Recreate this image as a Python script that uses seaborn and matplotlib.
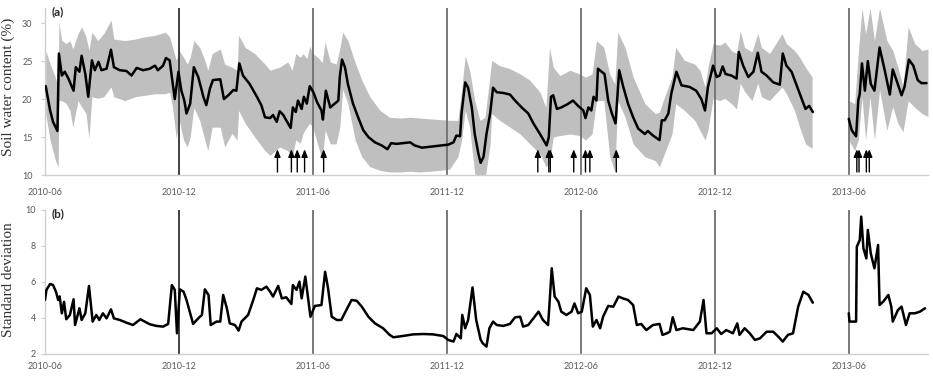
import matplotlib
matplotlib.use("Agg")
import matplotlib.pyplot as plt
import matplotlib.dates as mdates
import numpy as np
import pandas as pd
import seaborn as sns

# days counted from 2010-06-01
START = "2010-06-01"

swc_days = [1, 7, 11, 17, 19, 23, 27, 32, 39, 42, 47, 50, 55, 59, 64, 68, 73, 77, 84, 90,
            94, 102, 111, 118, 125, 134, 143, 150, 154, 161, 165, 170, 175, 177, 182, 186,
            190, 193, 198, 203, 209, 216, 220, 225, 229, 239, 244, 250, 257, 261, 265, 270,
            279, 289, 295, 300, 307, 311, 316, 320, 325, 329, 335, 338, 342, 345, 350, 353,
            357, 361, 366, 371, 377, 379, 383, 389, 395, 400, 402, 405, 409, 413, 420, 427,
            434, 441, 450, 459, 467, 472, 479, 488, 498, 504, 514, 523, 532, 541, 550, 557,
            561, 566, 568, 573, 577, 582, 586, 591, 594, 598, 602, 607, 611, 616, 625, 634,
            641, 650, 659, 666, 675, 684, 687, 690, 693, 698, 704, 712, 720, 727, 734, 737,
            741, 745, 748, 752, 754, 759, 763, 768, 773, 778, 783, 788, 795, 802, 809, 818,
            822, 829, 838, 841, 845, 850, 854, 861, 868, 879, 888, 895, 900, 904, 911, 916,
            920, 924, 928, 936, 943, 946, 952, 959, 966, 972, 977, 984, 993, 1002, 1006,
            1011, 1018, 1025, 1032, 1037, 1042, 1047,
            1096, 1100, 1106, 1109, 1111, 1114, 1118, 1122, 1126, 1131, 1138, 1145, 1152,
            1156, 1161, 1168, 1172, 1178, 1184, 1190, 1195, 1202]
swc_mean = [21.7, 18.5, 17.0, 15.8, 26.0, 23.1, 23.6, 22.7, 21.1, 24.2, 23.6, 25.7, 23.3,
            20.3, 25.1, 23.8, 24.9, 23.8, 24.0, 26.5, 24.2, 23.8, 23.7, 23.1, 24.1, 23.8,
            24.0, 24.4, 23.8, 24.4, 25.4, 25.1, 21.4, 20.0, 23.6, 21.1, 19.8, 18.1, 19.4,
            24.2, 22.9, 20.3, 19.2, 21.4, 22.5, 22.6, 20.0, 20.5, 21.2, 21.1, 24.7, 23.1,
            22.0, 20.3, 19.2, 17.6, 17.5, 17.9, 17.0, 18.4, 17.9, 17.2, 16.2, 18.9, 18.3,
            19.8, 18.7, 20.3, 19.4, 21.7, 20.9, 19.6, 18.5, 17.3, 21.1, 18.9, 19.4, 19.8,
            22.9, 25.2, 24.2, 22.0, 19.4, 17.6, 15.9, 15.0, 14.3, 13.9, 13.4, 14.2, 14.1,
            14.2, 14.3, 13.9, 13.6, 13.7, 13.8, 13.9, 14.0, 14.3, 15.2, 15.1, 18.1, 22.2,
            21.5, 18.9, 15.4, 12.8, 11.6, 12.4, 15.4, 18.1, 21.5, 20.9, 20.8, 20.6, 19.8,
            18.9, 18.1, 16.8, 15.4, 13.9, 15.0, 20.3, 20.5, 18.7, 18.9, 19.3, 19.8, 19.1,
            18.5, 17.5, 18.9, 18.5, 20.3, 19.8, 24.0, 23.6, 23.3, 19.8, 18.1, 16.8, 23.8,
            21.8, 19.4, 17.6, 16.1, 15.4, 15.8, 15.2, 14.6, 17.2, 17.2, 18.1, 20.7, 23.6,
            21.8, 21.6, 21.1, 20.0, 18.5, 21.6, 24.4, 22.9, 23.1, 24.3, 23.3, 23.1, 22.7,
            26.2, 24.4, 22.9, 23.6, 26.1, 23.6, 23.1, 22.2, 21.9, 26.0, 24.4, 23.6, 21.8,
            20.0, 18.7, 19.1, 18.3,
            17.4, 15.9, 15.1, 19.8, 20.7, 24.7, 21.1, 25.0, 22.0, 21.1, 26.8, 23.8, 20.6,
            23.9, 22.5, 20.5, 21.6, 25.2, 24.4, 22.5, 22.1, 22.1]

band_days = [1, 7, 14, 18, 19, 23, 29, 34, 38, 45, 50, 56, 60, 64, 72, 80, 90, 94, 109,
             123, 136, 150, 164, 170, 174, 179, 183, 189, 194, 198, 203, 211, 218, 222, 228,
             239, 245, 255, 262, 264, 273, 286, 300, 307, 320, 331, 337, 342, 348, 352, 357,
             361, 365, 372, 378, 382, 389, 397, 402, 406, 413, 423, 432, 443, 457, 470, 484,
             498, 511, 525, 538, 552, 563, 568, 573, 579, 586, 593, 600, 607, 609, 620, 634,
             648, 661, 675, 683, 688, 693, 702, 716, 729, 737, 746, 752, 762, 770, 777, 781,
             791, 802, 818, 832, 838, 843, 855, 860, 872, 886, 893, 900, 904, 911, 920, 927,
             936, 943, 948, 954, 964, 972, 977, 988, 1005, 1011, 1022, 1029, 1037, 1046,
             1096, 1104, 1109, 1114, 1119, 1125, 1131, 1138, 1148, 1156, 1163, 1170, 1177,
             1186, 1196, 1204]
band_hi = [26.4, 24.6, 22.9, 21.6, 30.1, 27.7, 27.3, 27.7, 26.6, 28.6, 29.5, 28.2, 26.4,
           28.8, 27.7, 28.6, 30.4, 27.9, 27.7, 27.9, 28.2, 28.4, 28.8, 28.2, 26.8, 25.1,
           26.4, 25.5, 24.6, 25.5, 27.7, 26.8, 25.1, 23.8, 26.0, 26.6, 24.6, 24.2, 23.8,
           28.4, 26.8, 26.0, 24.6, 23.8, 24.2, 24.9, 23.8, 26.0, 25.5, 26.0, 25.3, 27.0,
           26.0, 25.5, 24.8, 27.5, 24.9, 24.6, 26.6, 28.8, 27.7, 24.8, 22.5, 20.3, 18.5,
           17.6, 17.5, 17.6, 17.5, 17.4, 17.3, 17.2, 17.2, 21.1, 25.7, 23.8, 19.8, 17.2,
           17.6, 23.3, 25.1, 24.4, 24.0, 23.3, 22.5, 20.9, 18.9, 26.8, 24.2, 23.1, 23.8,
           23.3, 22.9, 23.3, 27.7, 26.8, 23.3, 22.0, 28.8, 26.8, 22.9, 19.4, 18.1, 18.3,
           19.8, 22.9, 26.8, 25.1, 24.6, 23.8, 21.6, 24.2, 27.3, 27.1, 27.5, 26.4, 26.0,
           29.0, 26.8, 26.2, 28.6, 26.8, 26.0, 28.6, 27.3, 26.4, 25.5, 24.2, 22.9,
           19.8, 19.4, 26.0, 32.0, 28.6, 32.0, 27.7, 32.0, 27.7, 26.4, 24.2, 21.6, 29.5,
           27.3, 26.4, 26.6]
band_lo = [18.0, 14.6, 12.0, 11.0, 19.8, 19.8, 19.4, 18.5, 16.3, 19.8, 19.0, 18.1, 14.8,
           20.3, 20.1, 20.3, 21.6, 20.3, 19.8, 20.3, 20.5, 20.7, 20.7, 20.9, 18.9, 14.8,
           17.2, 14.6, 13.7, 15.0, 18.9, 17.2, 14.6, 13.2, 16.3, 16.3, 13.7, 15.5, 14.6,
           18.5, 16.8, 15.0, 13.2, 12.6, 13.7, 13.2, 12.4, 14.6, 14.2, 15.5, 16.3, 16.8,
           16.3, 14.0, 11.9, 15.9, 14.1, 14.1, 16.3, 21.3, 19.4, 14.6, 12.4, 11.1, 10.6,
           10.4, 10.4, 10.5, 10.4, 10.5, 10.6, 10.8, 12.4, 14.6, 18.5, 16.3, 10.2, 9.5,
           9.5, 14.1, 18.1, 17.2, 16.3, 15.4, 14.1, 12.8, 11.1, 11.5, 15.0, 15.2, 15.4,
           15.2, 14.6, 15.4, 19.8, 19.8, 12.5, 10.4, 19.8, 17.6, 14.1, 12.4, 11.9, 11.1,
           12.4, 15.4, 19.4, 18.5, 17.2, 15.9, 14.6, 15.9, 20.1, 19.8, 20.1, 19.4, 18.7,
           22.1, 21.0, 19.8, 22.1, 20.3, 19.8, 21.6, 20.7, 18.5, 16.3, 14.1, 13.5,
           14.6, 13.2, 14.6, 20.3, 14.6, 20.3, 14.6, 21.2, 15.9, 19.0, 16.8, 15.7, 19.8,
           18.9, 18.1, 17.7]

sd_days = [0, 2, 7, 11, 15, 18, 20, 23, 26, 29, 34, 39, 41, 44, 47, 50, 55, 60, 65, 70,
           74, 79, 84, 90, 94, 102, 111, 120, 130, 136, 143, 152, 161, 168, 173, 177, 180,
           184, 189, 193, 198, 202, 209, 214, 218, 223, 226, 234, 239, 243, 248, 252, 259,
           264, 268, 277, 284, 289, 295, 302, 307, 311, 318, 323, 329, 336, 338, 343, 347,
           350, 355, 359, 362, 368, 377, 382, 386, 391, 398, 404, 411, 418, 425, 432, 441,
           450, 461, 470, 475, 488, 502, 516, 529, 543, 550, 557, 561, 567, 569, 573, 577,
           583, 588, 594, 597, 602, 606, 611, 616, 625, 634, 641, 648, 652, 659, 666, 673,
           679, 686, 688, 691, 695, 700, 704, 711, 718, 722, 727, 732, 738, 743, 747, 752,
           757, 761, 768, 775, 782, 788, 795, 802, 807, 813, 820, 829, 838, 842, 848, 852,
           856, 861, 870, 884, 893, 898, 902, 909, 916, 922, 929, 938, 944, 947, 954, 961,
           968, 975, 984, 993, 1000, 1006, 1013, 1020, 1027, 1034, 1041, 1047,
           1096, 1097, 1106, 1107, 1111, 1113, 1116, 1120, 1122, 1126, 1131, 1136, 1138,
           1143, 1150, 1154, 1156, 1163, 1168, 1174, 1179, 1186, 1193, 1200]
sd_vals = [5.0, 5.56, 5.89, 5.83, 5.46, 5.0, 5.2, 4.26, 4.9, 3.93, 4.17, 5.04, 3.61, 4.07,
           4.54, 3.89, 4.26, 5.78, 3.8, 4.17, 3.89, 4.26, 3.98, 4.48, 3.98, 3.89, 3.74, 3.61,
           3.93, 3.8, 3.65, 3.56, 3.52, 3.67, 5.83, 5.56, 3.15, 5.59, 5.46, 5.0, 4.26, 3.67,
           3.98, 4.17, 5.59, 5.28, 3.61, 3.8, 3.8, 5.28, 4.54, 3.7, 3.61, 3.3, 3.8, 4.17,
           5.0, 5.65, 5.56, 5.74, 5.46, 5.19, 5.78, 5.09, 5.15, 4.78, 5.83, 5.56, 6.02, 5.09,
           6.3, 5.0, 4.07, 4.67, 4.72, 6.57, 5.65, 4.07, 3.89, 3.89, 4.44, 5.0, 4.96, 4.63,
           4.07, 3.7, 3.43, 3.06, 2.93, 3.0, 3.09, 3.11, 3.09, 3.0, 2.78, 2.69, 3.11, 2.87,
           4.17, 3.43, 3.89, 5.7, 3.89, 2.8, 2.59, 2.41, 3.43, 3.8, 3.61, 3.56, 3.67, 4.04,
           4.07, 3.52, 3.61, 3.98, 4.35, 3.89, 3.61, 4.81, 6.76, 5.19, 4.91, 4.35, 4.17,
           4.35, 4.81, 4.26, 4.35, 5.65, 5.28, 3.52, 3.89, 3.43, 4.07, 4.67, 4.63, 5.19,
           5.09, 5.0, 4.72, 3.61, 3.67, 3.33, 3.61, 3.67, 3.06, 3.15, 3.24, 4.04, 3.33, 3.43,
           3.33, 3.8, 5.0, 3.15, 3.15, 3.43, 3.11, 3.33, 3.15, 3.7, 3.06, 3.43, 3.15, 2.78,
           2.87, 3.24, 3.24, 2.96, 2.69, 3.06, 3.15, 4.63, 5.46, 5.28, 4.85,
           4.26, 3.8, 3.8, 7.96, 8.33, 9.63, 7.87, 7.31, 8.89, 7.59, 6.76, 8.06, 4.72, 4.91,
           5.28, 4.63, 3.8, 4.44, 4.63, 3.61, 4.26, 4.26, 4.35, 4.54]

arrow_days = [317, 336, 344, 354, 380, 672, 687, 689, 721, 737, 743, 779,
              1107, 1110, 1120, 1124]
divider_dates = ["2010-12-01", "2011-06-01", "2011-12-01", "2012-06-01",
                 "2012-12-01", "2013-06-01"]
tick_dates = ["2010-06-01", "2010-12-01", "2011-06-01", "2011-12-01",
              "2012-06-01", "2012-12-01", "2013-06-01"]

start = pd.Timestamp(START)


def frame(days, vals):
    df = pd.DataFrame({"day": days, "val": vals})
    df["date"] = start + pd.to_timedelta(df["day"], unit="D")
    df["seg"] = (df["day"] > 1070).astype(int)
    return df


swc = frame(swc_days, swc_mean)
sd = frame(sd_days, sd_vals)
band = pd.DataFrame({"day": band_days, "lo": band_lo, "hi": band_hi})
band["date"] = start + pd.to_timedelta(band["day"], unit="D")
band["seg"] = (band["day"] > 1070).astype(int)

sns.set_style("white")
plt.rcParams["font.family"] = ["Lato", "DejaVu Sans"]

fig = plt.figure(figsize=(9.33, 3.78), dpi=100)
ax1 = fig.add_axes([0.0482, 0.537, 0.9464, 0.442])
ax2 = fig.add_axes([0.0482, 0.0635, 0.9464, 0.381])

for s, g in band.groupby("seg"):
    ax1.fill_between(g["date"], g["lo"], g["hi"], color="#bfbfbf", lw=0, zorder=1)

sns.lineplot(data=swc, x="date", y="val", units="seg", estimator=None,
             color="black", lw=1.8, ax=ax1, zorder=3)
sns.lineplot(data=sd, x="date", y="val", units="seg", estimator=None,
             color="black", lw=1.8, ax=ax2, zorder=3)

for d in arrow_days:
    xd = mdates.date2num(start + pd.Timedelta(days=d))
    ax1.annotate("", xy=(xd, 13.4), xytext=(xd, 10.4),
                 arrowprops=dict(arrowstyle="-|>,head_length=0.45,head_width=0.18",
                                 color="black", lw=1.0, shrinkA=0, shrinkB=0),
                 zorder=4)

xmin = start
xmax = start + pd.Timedelta(days=1204)
ticks = pd.to_datetime(tick_dates)

for i, ax in enumerate([ax1, ax2]):
    for j, d in enumerate(pd.to_datetime(divider_dates)):
        ax.axvline(d, color="#333333" if j == 0 else "#707070", lw=1.3, zorder=2)
    ax.set_xlim(xmin, xmax)
    ax.set_xticks(ticks)
    ax.set_xticklabels([t.strftime("%Y-%m") for t in ticks])
    ax.set_xlabel("")
    ax.set_ylabel("")
    for side in ["top", "right"]:
        ax.spines[side].set_visible(False)
    for side in ["left", "bottom"]:
        ax.spines[side].set_color("#d0d0d0")
        ax.spines[side].set_linewidth(1.0)
    ax.tick_params(axis="x", length=0, labelsize=6.5, labelcolor="#595959",
                   pad=9.5 if i == 0 else 5.5)
    ax.tick_params(axis="y", length=3, color="#d0d0d0", labelsize=6.5,
                   labelcolor="#595959", pad=6 if i == 0 else 3.5, left=True)

ax1.set_ylim(10, 32)
ax1.set_yticks([10, 15, 20, 25, 30])
ax2.set_ylim(2, 10)
ax2.set_yticks([2, 4, 6, 8, 10])

ax1.text(0.008, 0.976, "(a)", transform=ax1.transAxes, fontsize=8.5,
         fontweight="bold", va="center", ha="left")
ax2.text(0.008, 0.972, "(b)", transform=ax2.transAxes, fontsize=8.5,
         fontweight="bold", va="center", ha="left")

fig.text(8.5 / 933, 0.77, "Soil water content (%)", rotation=90, va="center",
         ha="center", fontsize=11, family="Liberation Serif", color="#333333")
fig.text(8.5 / 933, 0.26, "Standard deviation", rotation=90, va="center",
         ha="center", fontsize=11, family="Liberation Serif", color="#333333")

fig.savefig("out.png", dpi=100)
